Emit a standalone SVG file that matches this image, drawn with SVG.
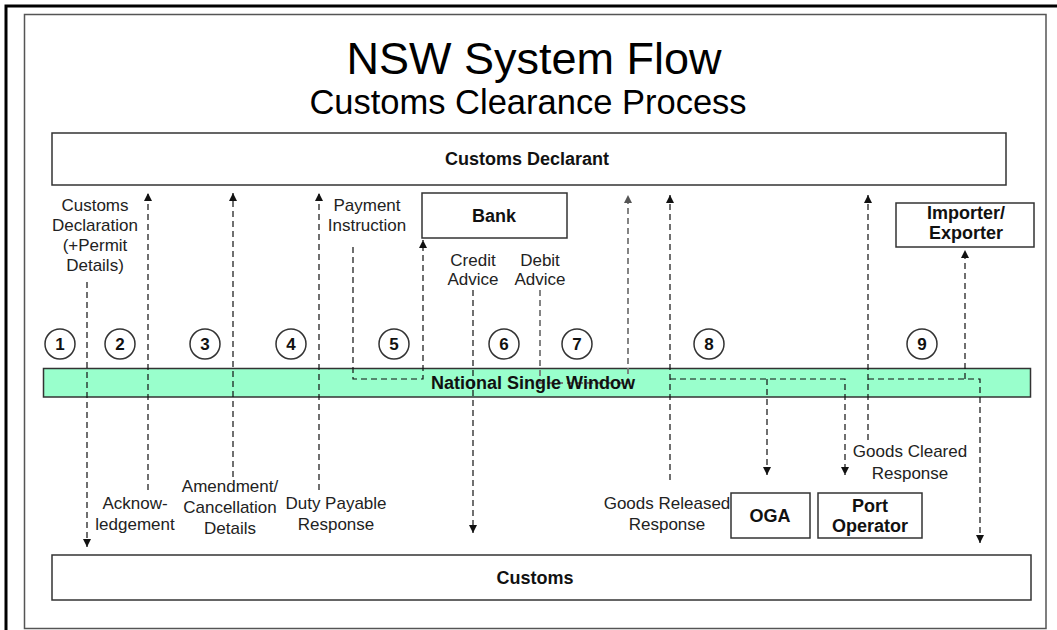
<svg xmlns="http://www.w3.org/2000/svg" width="1057" height="630" viewBox="0 0 1057 630">
<style>
.t{font-family:"Liberation Sans",Arial,sans-serif;font-size:17px;fill:#222;text-anchor:middle}
.b{font-family:"Liberation Sans",Arial,sans-serif;font-size:18px;font-weight:bold;fill:#111;text-anchor:middle}
.box{fill:#fff;stroke:#333;stroke-width:1.5}
.c{fill:#fff;stroke:#333;stroke-width:1.5}
.d{font-family:"Liberation Sans",Arial,sans-serif;font-size:17px;font-weight:bold;fill:#111;text-anchor:middle}
.ln{fill:none;stroke:#111;stroke-width:1.2;stroke-dasharray:6 4}
.gl{fill:none;stroke:#777;stroke-width:1.8;stroke-dasharray:6 4}
</style>
<defs>
<marker id="ah" markerUnits="userSpaceOnUse" markerWidth="9" markerHeight="8" refX="8" refY="4" orient="auto"><path d="M0,0 L8,4 L0,8 z" fill="#111"/></marker>
<marker id="ag" markerUnits="userSpaceOnUse" markerWidth="9" markerHeight="8" refX="8" refY="4" orient="auto"><path d="M0,0 L8,4 L0,8 z" fill="#555"/></marker>
</defs>
<rect width="1057" height="630" fill="#fff"/>
<rect x="6" y="6" width="1070" height="650" fill="none" stroke="#000" stroke-width="3"/>
<rect x="24.5" y="14.5" width="1021.5" height="614" fill="none" stroke="#555" stroke-width="1.5"/>
<g id="title">
<text x="534" y="74" style="font-family:'Liberation Sans',Arial,sans-serif;font-size:45px;fill:#000;text-anchor:middle">NSW System Flow</text>
<text x="528" y="114" style="font-family:'Liberation Sans',Arial,sans-serif;font-size:34.5px;fill:#000;text-anchor:middle">Customs Clearance Process</text>
</g>
<g id="nsw"><rect x="43.5" y="368.5" width="987" height="28.5" fill="#99FFCC" stroke="#333" stroke-width="1.5"/></g>
<g id="connectors">
<path class="ln" d="M87,282 V547" marker-end="url(#ah)"/>
<path class="ln" d="M148,490 V193" marker-end="url(#ah)"/>
<path class="ln" d="M233,477 V193" marker-end="url(#ah)"/>
<path class="ln" d="M319,490 V193" marker-end="url(#ah)"/>
<path class="ln" d="M353,247 V379 H423 V240" marker-end="url(#ah)"/>
<path class="ln" d="M473,290 V533" marker-end="url(#ah)"/>
<path class="gl" d="M540,290 V383 H628 V195" marker-end="url(#ag)"/>
<path class="ln" d="M670,480 V195" marker-end="url(#ah)"/>
<path class="ln" d="M670,379 H845 V475" marker-end="url(#ah)"/>
<path class="ln" d="M767,379 V475" marker-end="url(#ah)"/>
<path class="ln" d="M868,440 V195" marker-end="url(#ah)"/>
<path class="ln" d="M868,379 H980 V543" marker-end="url(#ah)"/>
<path class="ln" d="M965,379 V250" marker-end="url(#ah)"/>
</g>
<text class="b" x="533" y="389">National Single Window</text>
<g id="declarant"><rect class="box" x="52" y="133" width="954" height="52"/><text class="b" x="527" y="165">Customs Declarant</text></g>
<g id="customs"><rect class="box" x="52" y="555" width="979" height="45"/><text class="b" x="535" y="584">Customs</text></g>
<g id="bank"><rect class="box" x="422" y="193" width="145" height="45"/><text class="b" x="494" y="222">Bank</text></g>
<g id="importer"><rect class="box" x="896" y="203" width="138" height="44"/><text class="b" x="966" y="219">Importer/</text><text class="b" x="966" y="239">Exporter</text></g>
<g id="oga"><rect class="box" x="731" y="493" width="79" height="45"/><text class="b" x="770" y="522">OGA</text></g>
<g id="port"><rect class="box" x="818" y="493" width="104" height="45"/><text class="b" x="870" y="512">Port</text><text class="b" x="870" y="532">Operator</text></g>
<g id="steps">
<circle class="c" cx="60" cy="344" r="15"/><text class="d" x="60" y="350">1</text>
<circle class="c" cx="120" cy="344" r="15"/><text class="d" x="120" y="350">2</text>
<circle class="c" cx="205" cy="344" r="15"/><text class="d" x="205" y="350">3</text>
<circle class="c" cx="291" cy="344" r="15"/><text class="d" x="291" y="350">4</text>
<circle class="c" cx="394" cy="344" r="15"/><text class="d" x="394" y="350">5</text>
<circle class="c" cx="504" cy="344" r="15"/><text class="d" x="504" y="350">6</text>
<circle class="c" cx="577" cy="344" r="15"/><text class="d" x="577" y="350">7</text>
<circle class="c" cx="709" cy="344" r="15"/><text class="d" x="709" y="350">8</text>
<circle class="c" cx="922" cy="344" r="15"/><text class="d" x="922" y="350">9</text>
</g>
<g id="labels">
<text class="t" x="95" y="211">Customs</text>
<text class="t" x="95" y="231">Declaration</text>
<text class="t" x="95" y="251">(+Permit</text>
<text class="t" x="95" y="271">Details)</text>
<text class="t" x="367" y="211">Payment</text>
<text class="t" x="367" y="231">Instruction</text>
<text class="t" x="473" y="266">Credit</text>
<text class="t" x="473" y="285">Advice</text>
<text class="t" x="540" y="266">Debit</text>
<text class="t" x="540" y="285">Advice</text>
<text class="t" x="135" y="509">Acknow-</text>
<text class="t" x="135" y="530">ledgement</text>
<text class="t" x="230" y="492">Amendment/</text>
<text class="t" x="230" y="513">Cancellation</text>
<text class="t" x="230" y="534">Details</text>
<text class="t" x="336" y="509">Duty Payable</text>
<text class="t" x="336" y="530">Response</text>
<text class="t" x="667" y="509">Goods Released</text>
<text class="t" x="667" y="530">Response</text>
<text class="t" x="910" y="457">Goods Cleared</text>
<text class="t" x="910" y="479">Response</text>
</g>
</svg>
